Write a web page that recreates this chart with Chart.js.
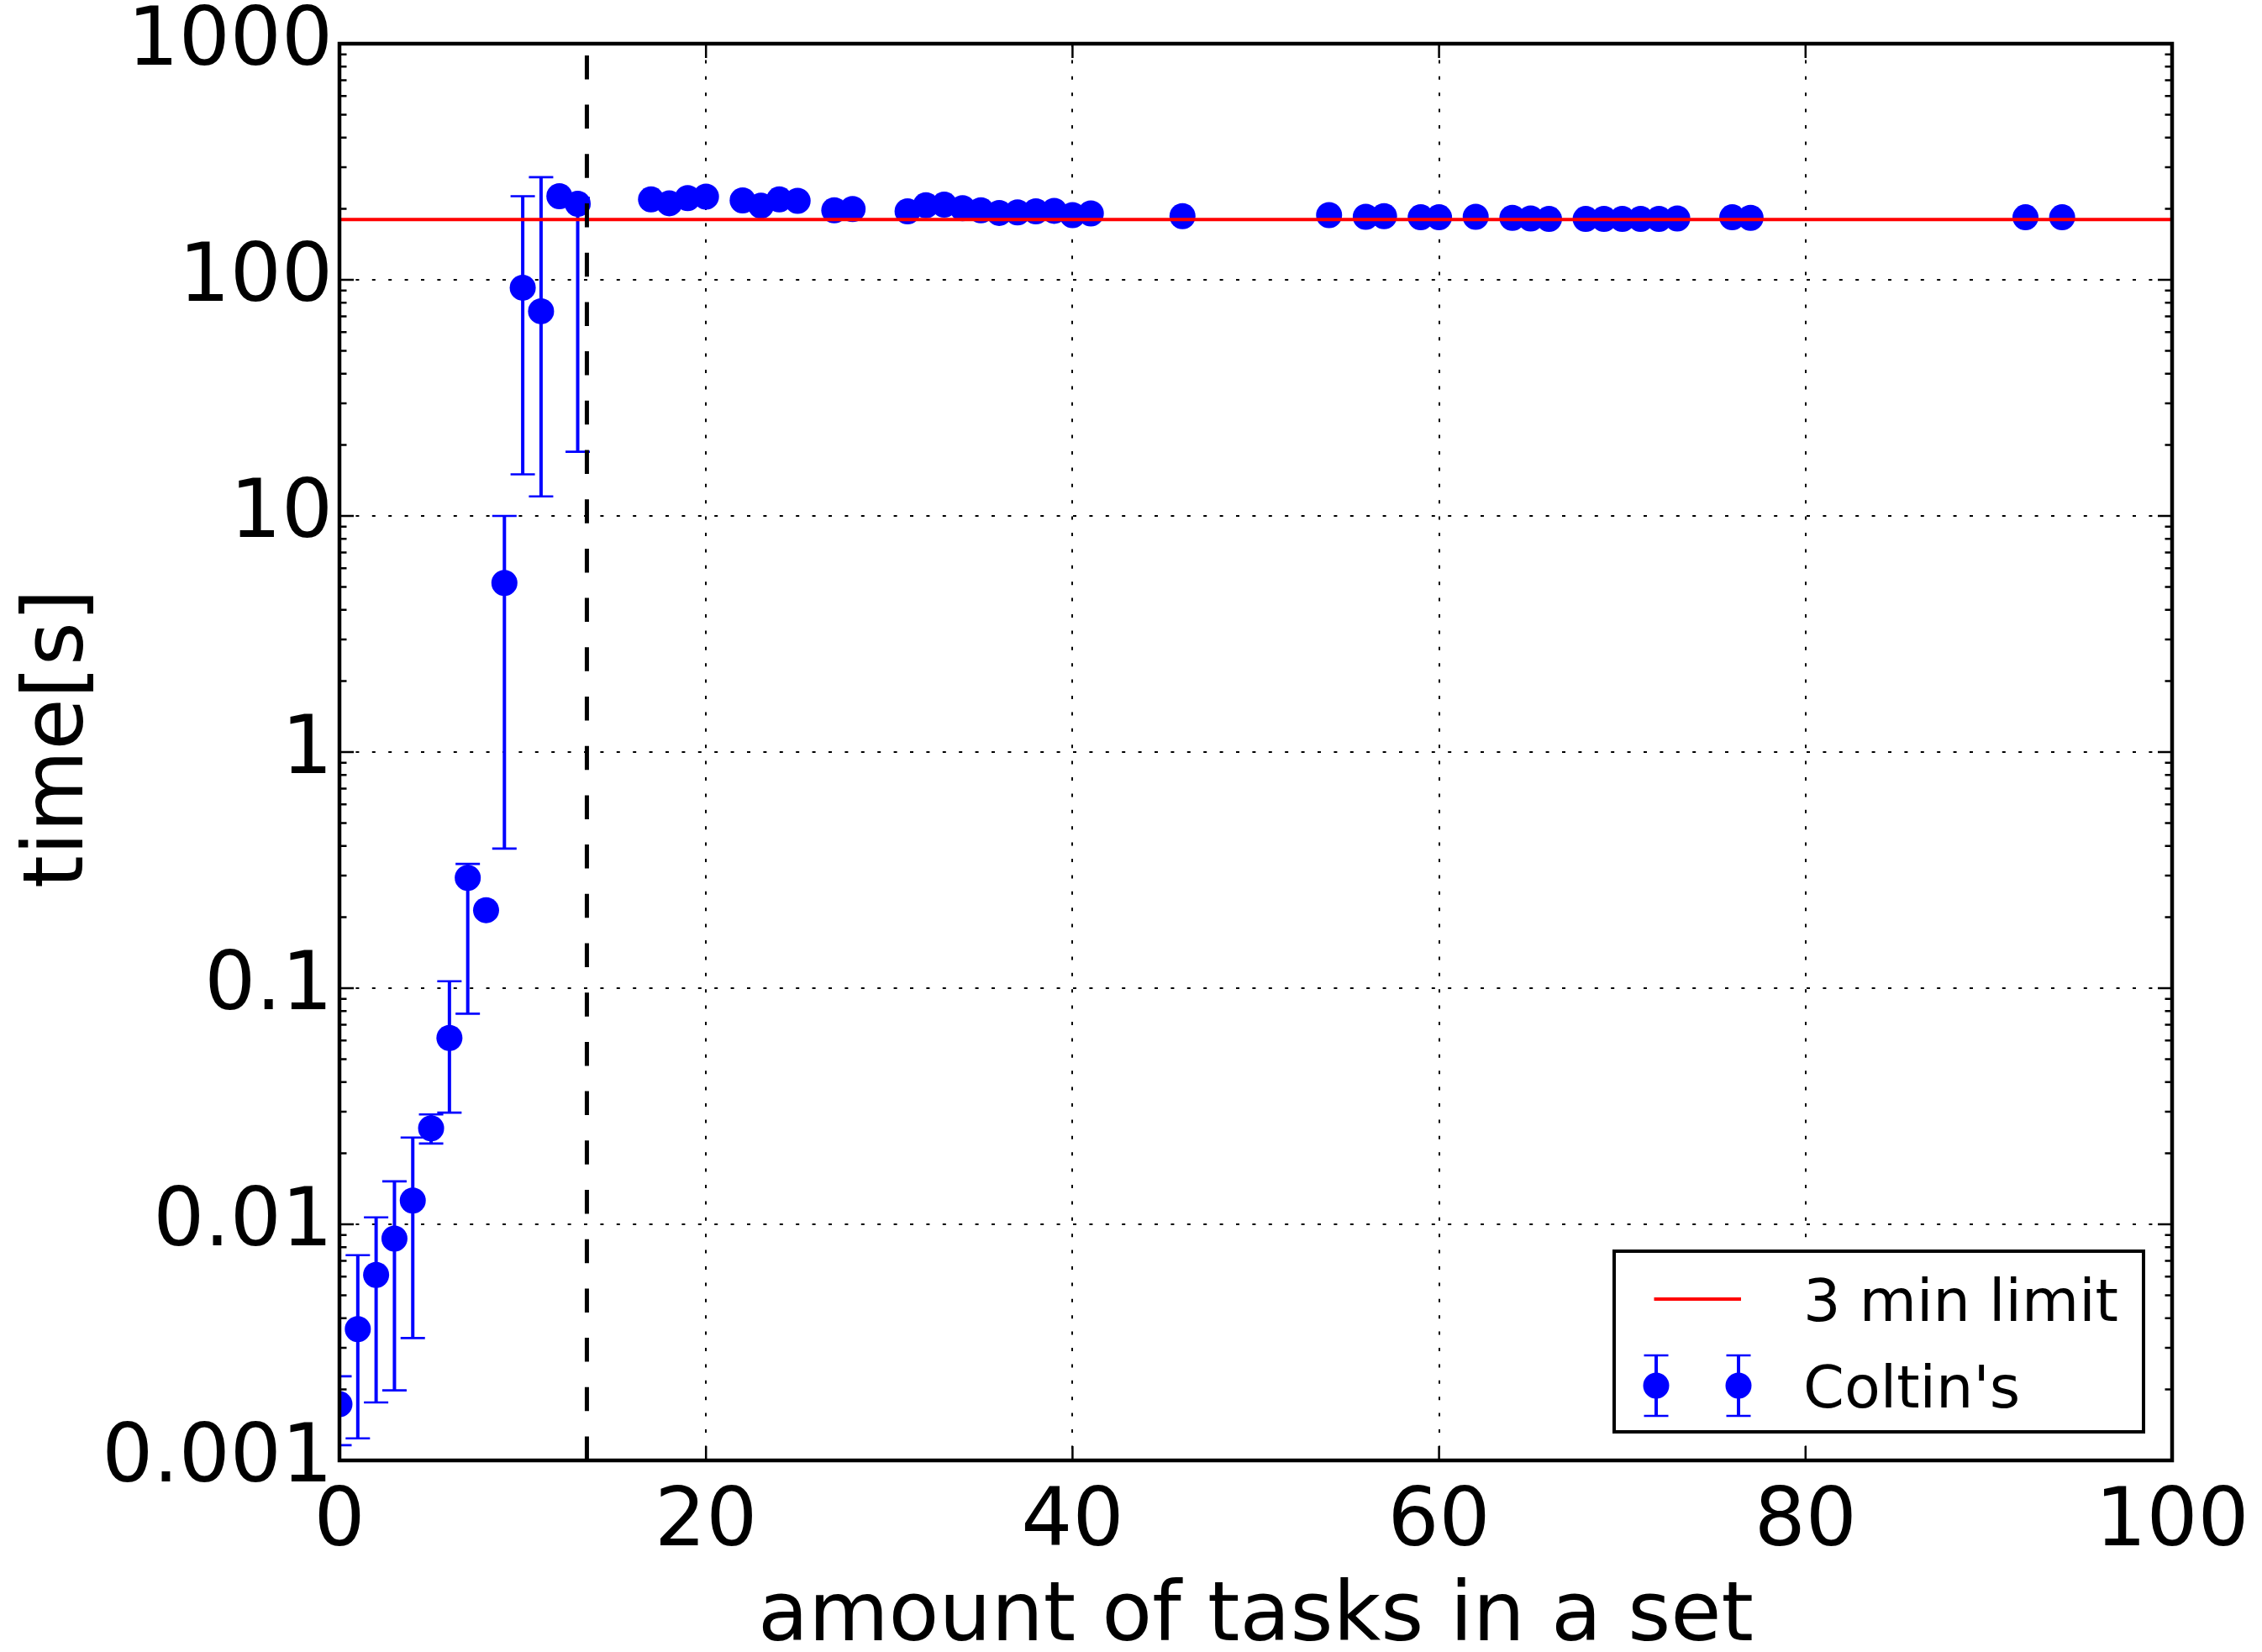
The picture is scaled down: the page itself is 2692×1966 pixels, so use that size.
<!DOCTYPE html>
<html lang="en">

<head>
  <meta charset="UTF-8">
  <title>time vs amount of tasks in a set</title>
  <script src="https://cdn.jsdelivr.net/npm/chart.js"></script>
  <style>
    body {
      margin: 0;
      background: #fff;
    }

    canvas {
      display: block;
    }
  </style>
</head>

<body>
  <canvas id="timeChart" width="2692" height="1966"></canvas>

  <script>
    // amount of tasks in a set
    var taskCounts = [0, 1, 2, 3, 4, 5, 6, 7, 8, 9, 10, 11, 12, 13,
      17, 18, 19, 20, 22, 23, 24, 25, 27, 28,
      31, 32, 33, 34, 35, 36, 37, 38, 39, 40, 41,
      46, 54, 56, 57, 59, 60, 62, 64, 65, 66,
      68, 69, 70, 71, 72, 73, 76, 77, 92, 94];

    // mean solving time [s]
    var meanTimes = [0.00173, 0.0036, 0.0061, 0.0087, 0.0126, 0.0255, 0.0615, 0.293, 0.214, 5.2, 92.6, 73.6, 226, 210,
      219, 211, 222, 225, 217, 206, 219, 216, 197, 199.5,
      195, 207, 208, 201, 197, 192, 193, 195, 196, 188, 191,
      186, 188, 185, 186, 184, 184, 185, 183, 182, 181,
      181, 181, 181, 181, 181, 182, 184, 183, 184, 184];

    // error bar ends, null where no bar is drawn
    var errLow = [0.00116, 0.00124, 0.00176, 0.00198, 0.0033, 0.022, 0.0297, 0.078, null, 0.39, 15.0, 12.1, null, 18.7];
    var errHigh = [0.00227, 0.0074, 0.0107, 0.0152, 0.0233, 0.0292, 0.107, 0.336, null, 10.0, 226, 272, null, 222];

    var limitSeconds = 180;
    var limitRange = [0, 100];
    var cutoffTasks = 13.5;

    var seriesLabels = ['3 min limit', "Coltin's"];
    var xTickValues = [0, 20, 40, 60, 80, 100];
    var yTickValues = [0.001, 0.01, 0.1, 1, 10, 100, 1000];
    var yTickLabels = ['0.001', '0.01', '0.1', '1', '10', '100', '1000'];

    var BLUE = '#0000ff';
    var RED = '#ff0000';
    var FONT = "'DejaVu Sans', sans-serif";

    Chart.defaults.font.family = FONT;
    Chart.defaults.color = '#000';

    function drawErrorBar(ctx, x, yLow, yHigh, capHalf) {
      ctx.lineWidth = 4;
      ctx.beginPath();
      ctx.moveTo(x, yLow);
      ctx.lineTo(x, yHigh);
      ctx.stroke();
      ctx.lineWidth = 2.7;
      ctx.beginPath();
      ctx.moveTo(x - capHalf, yLow);
      ctx.lineTo(x + capHalf, yLow);
      ctx.moveTo(x - capHalf, yHigh);
      ctx.lineTo(x + capHalf, yHigh);
      ctx.stroke();
    }

    // error bars go under the markers
    var errorBars = {
      id: 'errorBars',
      beforeDatasetsDraw: function (chart) {
        var ctx = chart.ctx, area = chart.chartArea;
        var xs = chart.scales.x, ys = chart.scales.y;
        ctx.save();
        ctx.beginPath();
        ctx.rect(area.left, area.top, area.right - area.left, area.bottom - area.top);
        ctx.clip();
        ctx.strokeStyle = BLUE;
        for (var i = 0; i < errLow.length; i++) {
          if (errLow[i] === null) continue;
          drawErrorBar(ctx, xs.getPixelForValue(taskCounts[i]),
            ys.getPixelForValue(errLow[i]), ys.getPixelForValue(errHigh[i]), 14.5);
        }
        ctx.restore();
      }
    };

    // cutoff line, inward ticks and the frame
    var axesOverlay = {
      id: 'axesOverlay',
      afterDatasetsDraw: function (chart) {
        var ctx = chart.ctx, a = chart.chartArea;
        var xs = chart.scales.x, ys = chart.scales.y;
        ctx.save();

        var cx = xs.getPixelForValue(cutoffTasks);
        ctx.strokeStyle = '#000';
        ctx.lineWidth = 5;
        ctx.setLineDash([28.5, 30.2]);
        ctx.beginPath();
        ctx.moveTo(cx, a.bottom);
        ctx.lineTo(cx, a.top);
        ctx.stroke();
        ctx.setLineDash([]);

        ctx.lineWidth = 2.5;
        ctx.beginPath();
        yTickValues.forEach(function (v, i) {
          var y = ys.getPixelForValue(v);
          ctx.moveTo(a.left, y); ctx.lineTo(a.left + 17, y);
          ctx.moveTo(a.right, y); ctx.lineTo(a.right - 17, y);
          if (i < yTickValues.length - 1) {
            for (var m = 2; m <= 9; m++) {
              var ym = ys.getPixelForValue(v * m);
              ctx.moveTo(a.left, ym); ctx.lineTo(a.left + 8.5, ym);
              ctx.moveTo(a.right, ym); ctx.lineTo(a.right - 8.5, ym);
            }
          }
        });
        xTickValues.forEach(function (v) {
          var x = xs.getPixelForValue(v);
          ctx.moveTo(x, a.bottom); ctx.lineTo(x, a.bottom - 17);
          ctx.moveTo(x, a.top); ctx.lineTo(x, a.top + 17);
        });
        ctx.stroke();

        ctx.lineWidth = 4.5;
        ctx.strokeRect(a.left, a.top, a.right - a.left, a.bottom - a.top);
        ctx.restore();
      }
    };

    var legendBox = {
      id: 'legendBox',
      afterDraw: function (chart) {
        var ctx = chart.ctx, a = chart.chartArea;
        var w = 630, h = 215;
        var x0 = a.right - 34 - w, y0 = a.bottom - 34 - h;
        var row1 = y0 + 57, row2 = y0 + 160;
        var sets = chart.data.datasets;
        ctx.save();
        ctx.fillStyle = '#fff';
        ctx.fillRect(x0, y0, w, h);
        ctx.strokeStyle = '#000';
        ctx.lineWidth = 4;
        ctx.strokeRect(x0, y0, w, h);

        ctx.strokeStyle = RED;
        ctx.lineWidth = 4;
        ctx.beginPath();
        ctx.moveTo(x0 + 47.5, row1);
        ctx.lineTo(x0 + 151, row1);
        ctx.stroke();

        ctx.strokeStyle = BLUE;
        ctx.fillStyle = BLUE;
        [x0 + 50, x0 + 148].forEach(function (mx) {
          drawErrorBar(ctx, mx, row2 + 36, row2 - 36, 14.5);
          ctx.beginPath();
          ctx.arc(mx, row2, 15.5, 0, Math.PI * 2);
          ctx.fill();
        });

        ctx.fillStyle = '#000';
        ctx.font = '70px ' + FONT;
        ctx.textBaseline = 'alphabetic';
        ctx.fillText(sets[0].label, x0 + 225, row1 + 26);
        ctx.fillText(sets[1].label, x0 + 225, row2 + 26);
        ctx.restore();
      }
    };

    var ctx = document.getElementById('timeChart').getContext('2d');
    var timeChart = new Chart(ctx, {
      type: 'scatter',
      data: {
        datasets: [{
          type: 'line',
          label: seriesLabels[0],
          data: limitRange.map(function (x) { return { x: x, y: limitSeconds }; }),
          borderColor: RED,
          borderWidth: 4,
          pointRadius: 0,
          fill: false,
          clip: 0
        }, {
          label: seriesLabels[1],
          data: taskCounts.map(function (x, i) { return { x: x, y: meanTimes[i] }; }),
          backgroundColor: BLUE,
          borderWidth: 0,
          pointRadius: 15.5,
          clip: 0
        }]
      },
      options: {
        responsive: false,
        animation: false,
        devicePixelRatio: 1,
        layout: { padding: { top: 52, right: 107, left: 0, bottom: 0 } },
        plugins: {
          legend: { display: false },
          tooltip: { enabled: false }
        },
        scales: {
          x: {
            type: 'linear',
            min: 0,
            max: 100,
            afterBuildTicks: function (s) {
              s.ticks = xTickValues.map(function (v) { return { value: v }; });
            },
            afterFit: function (s) {
              s.height = 228;
              s.paddingLeft = 0;
              s.paddingRight = 0;
            },
            ticks: { color: '#000', font: { size: 96 }, padding: 18, maxRotation: 0, autoSkip: false },
            grid: { color: '#000', lineWidth: 2, drawTicks: false, borderDash: [4, 15.4] },
            border: { display: false, dash: [4, 15.4] },
            title: {
              display: true,
              text: 'amount of tasks in a set',
              color: '#000',
              font: { size: 98, lineHeight: 0.8 },
              padding: { top: 0, bottom: 0 }
            }
          },
          y: {
            type: 'logarithmic',
            min: 0.001,
            max: 1000,
            afterBuildTicks: function (s) {
              s.ticks = yTickValues.map(function (v) { return { value: v }; });
            },
            afterFit: function (s) {
              s.width = 404;
              s.paddingTop = 0;
              s.paddingBottom = 0;
            },
            ticks: {
              color: '#000',
              font: { size: 96 },
              padding: 8,
              autoSkip: false,
              callback: function (value, index) { return yTickLabels[index]; }
            },
            grid: { color: '#000', lineWidth: 2, drawTicks: false, borderDash: [4, 15.4] },
            border: { display: false, dash: [4, 15.4] },
            title: {
              display: true,
              text: ' time[s]',
              color: '#000',
              font: { size: 100, lineHeight: 1 },
              padding: { top: 22, bottom: 0 }
            }
          }
        }
      },
      plugins: [errorBars, axesOverlay, legendBox]
    });
  </script>
</body>

</html>
